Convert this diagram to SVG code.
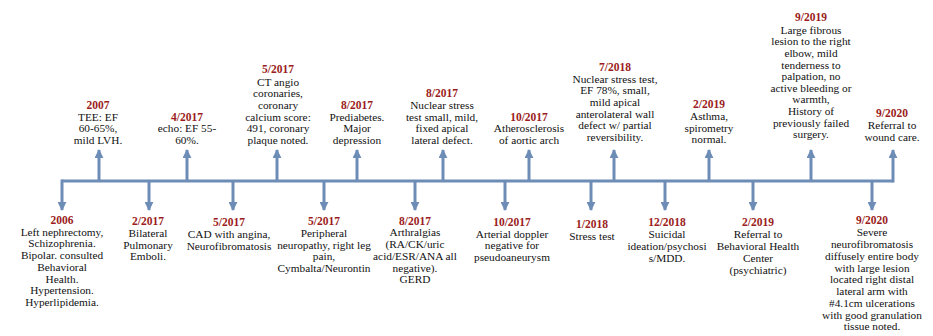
<svg xmlns="http://www.w3.org/2000/svg" width="933" height="336" viewBox="0 0 933 336">
<style>
text{font-family:"Liberation Serif","Times New Roman",serif;font-size:11.3px;fill:#111;text-anchor:middle}
.d{font-weight:bold;fill:#9a1c20;font-size:11.5px}
.ln{stroke:#6e8db6;stroke-width:3;fill:none}
</style>
<defs>
<marker id="ah" viewBox="0 0 10 10" refX="9" refY="5" markerWidth="3" markerHeight="3" orient="auto" markerUnits="strokeWidth">
<path d="M0,0 L10,5 L0,10 z" fill="#6e8db6"/>
</marker>
</defs>
<rect width="933" height="336" fill="#fff"/>
<g id="connectors">
<path class="ln" d="M62,181 H893"/>
<path class="ln" marker-end="url(#ah)" d="M99,181 V150"/>
<path class="ln" marker-end="url(#ah)" d="M187,181 V150"/>
<path class="ln" marker-end="url(#ah)" d="M277,181 V150"/>
<path class="ln" marker-end="url(#ah)" d="M357,181 V150"/>
<path class="ln" marker-end="url(#ah)" d="M443,181 V150"/>
<path class="ln" marker-end="url(#ah)" d="M529,181 V150"/>
<path class="ln" marker-end="url(#ah)" d="M614,181 V150"/>
<path class="ln" marker-end="url(#ah)" d="M709,181 V150"/>
<path class="ln" marker-end="url(#ah)" d="M811,181 V150"/>
<path class="ln" marker-end="url(#ah)" d="M893,182.5 V150"/>
<path class="ln" marker-end="url(#ah)" d="M62,179.5 V210"/>
<path class="ln" marker-end="url(#ah)" d="M149,181 V210"/>
<path class="ln" marker-end="url(#ah)" d="M233,181 V210"/>
<path class="ln" marker-end="url(#ah)" d="M324,181 V210"/>
<path class="ln" marker-end="url(#ah)" d="M415,181 V210"/>
<path class="ln" marker-end="url(#ah)" d="M505,181 V210"/>
<path class="ln" marker-end="url(#ah)" d="M591,181 V210"/>
<path class="ln" marker-end="url(#ah)" d="M665,181 V210"/>
<path class="ln" marker-end="url(#ah)" d="M753,181 V210"/>
<path class="ln" marker-end="url(#ah)" d="M872,181 V210"/>
</g>
<g id="e2007">
<text class="d" x="98" y="109">2007</text>
<text x="98" y="121">TEE: EF</text>
<text x="98" y="132">60-65%,</text>
<text x="98" y="144">mild LVH.</text>
</g>
<g id="e2017-04">
<text class="d" x="187" y="121">4/2017</text>
<text x="187" y="132">echo: EF 55-</text>
<text x="187" y="144">60%.</text>
</g>
<g id="e2017-05-ct">
<text class="d" x="278" y="73">5/2017</text>
<text x="278" y="86">CT angio</text>
<text x="278" y="97">coronaries,</text>
<text x="278" y="109">coronary</text>
<text x="278" y="121">calcium score:</text>
<text x="278" y="132">491, coronary</text>
<text x="278" y="144">plaque noted.</text>
</g>
<g id="e2017-08-pre">
<text class="d" x="357" y="109">8/2017</text>
<text x="357" y="121">Prediabetes.</text>
<text x="357" y="132">Major</text>
<text x="357" y="144">depression</text>
</g>
<g id="e2017-08-nuc">
<text class="d" x="442" y="97">8/2017</text>
<text x="442" y="109">Nuclear stress</text>
<text x="442" y="121">test  small, mild,</text>
<text x="442" y="132">fixed apical</text>
<text x="442" y="144">lateral defect.</text>
</g>
<g id="e2017-10-ath">
<text class="d" x="529" y="121">10/2017</text>
<text x="529" y="132">Atherosclerosis</text>
<text x="529" y="144">of aortic arch</text>
</g>
<g id="e2018-07">
<text class="d" x="615" y="71">7/2018</text>
<text x="615" y="83">Nuclear stress test,</text>
<text x="615" y="94">EF 78%, small,</text>
<text x="615" y="106">mild apical</text>
<text x="615" y="118">anterolateral wall</text>
<text x="615" y="129">defect w/ partial</text>
<text x="615" y="141">reversibility.</text>
</g>
<g id="e2019-02-asthma">
<text class="d" x="709" y="108">2/2019</text>
<text x="709" y="120">Asthma,</text>
<text x="709" y="132">spirometry</text>
<text x="709" y="143">normal.</text>
</g>
<g id="e2019-09">
<text class="d" x="811" y="21">9/2019</text>
<text x="811" y="34">Large fibrous</text>
<text x="811" y="45">lesion to the right</text>
<text x="811" y="57">elbow, mild</text>
<text x="811" y="69">tenderness to</text>
<text x="811" y="80">palpation,  no</text>
<text x="811" y="92">active bleeding  or</text>
<text x="811" y="103">warmth,</text>
<text x="811" y="115">History of</text>
<text x="811" y="127">previously  failed</text>
<text x="811" y="138">surgery.</text>
</g>
<g id="e2020-09-top">
<text class="d" x="892" y="117">9/2020</text>
<text x="892" y="129">Referral to</text>
<text x="892" y="141">wound care.</text>
</g>
<g id="e2006">
<text class="d" x="62" y="224">2006</text>
<text x="62" y="236">Left nephrectomy,</text>
<text x="62" y="247">Schizophrenia.</text>
<text x="62" y="259">Bipolar.  consulted</text>
<text x="62" y="271">Behavioral</text>
<text x="62" y="283">Health.</text>
<text x="62" y="294">Hypertension.</text>
<text x="62" y="306">Hyperlipidemia.</text>
</g>
<g id="e2017-02">
<text class="d" x="148" y="225">2/2017</text>
<text x="148" y="237">Bilateral</text>
<text x="148" y="249">Pulmonary</text>
<text x="148" y="260">Emboli.</text>
</g>
<g id="e2017-05-cad">
<text class="d" x="229" y="226">5/2017</text>
<text x="229" y="238">CAD with angina,</text>
<text x="229" y="250">Neurofibromatosis</text>
</g>
<g id="e2017-05-neuro">
<text class="d" x="324" y="225">5/2017</text>
<text x="324" y="237">Peripheral</text>
<text x="324" y="249">neuropathy, right leg</text>
<text x="324" y="260">pain,</text>
<text x="324" y="272">Cymbalta/Neurontin</text>
</g>
<g id="e2017-08-arth">
<text class="d" x="415" y="225">8/2017</text>
<text x="415" y="236">Arthralgias</text>
<text x="415" y="248">(RA/CK/uric</text>
<text x="415" y="260">acid/ESR/ANA all</text>
<text x="415" y="272">negative).</text>
<text x="415" y="283">GERD</text>
</g>
<g id="e2017-10-dop">
<text class="d" x="512" y="226">10/2017</text>
<text x="512" y="238">Arterial doppler</text>
<text x="512" y="249">negative for</text>
<text x="512" y="261">pseudoaneurysm</text>
</g>
<g id="e2018-01">
<text class="d" x="592" y="228">1/2018</text>
<text x="592" y="240">Stress test</text>
</g>
<g id="e2018-12">
<text class="d" x="667" y="226">12/2018</text>
<text x="667" y="238">Suicidal</text>
<text x="667" y="250">ideation/psychosi</text>
<text x="667" y="262">s/MDD.</text>
</g>
<g id="e2019-02-ref">
<text class="d" x="758" y="226">2/2019</text>
<text x="758" y="238">Referral  to</text>
<text x="758" y="250">Behavioral Health</text>
<text x="758" y="262">Center</text>
<text x="758" y="274">(psychiatric)</text>
</g>
<g id="e2020-09-bot">
<text class="d" x="872" y="224">9/2020</text>
<text x="872" y="236">Severe</text>
<text x="872" y="248">neurofibromatosis</text>
<text x="872" y="260">diffusely  entire body</text>
<text x="872" y="272">with large lesion</text>
<text x="872" y="283">located right distal</text>
<text x="872" y="295">lateral arm with</text>
<text x="872" y="307">#4.1cm ulcerations</text>
<text x="872" y="319">with good granulation</text>
<text x="872" y="330">tissue noted.</text>
</g>
</svg>
